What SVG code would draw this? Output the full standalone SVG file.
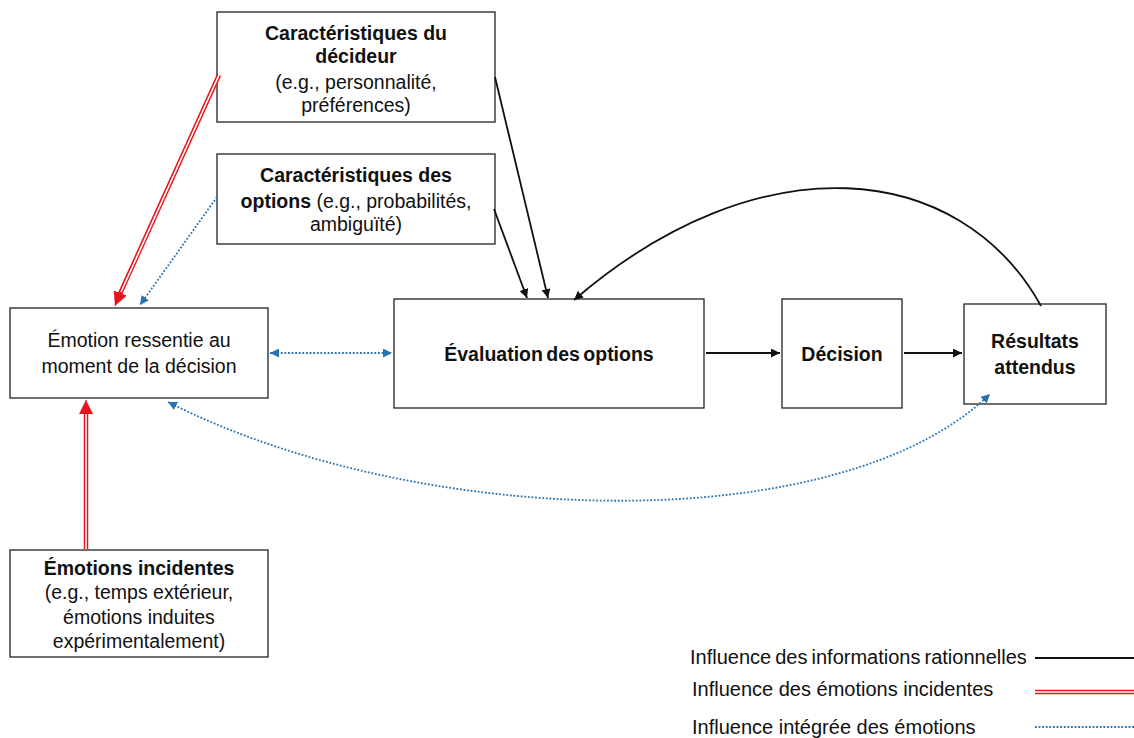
<svg xmlns="http://www.w3.org/2000/svg" width="1134" height="738" viewBox="0 0 1134 738">
<style>
.box{fill:#fff;stroke:#222;stroke-width:1.3}
text{font-family:"Liberation Sans",Arial,sans-serif;font-size:19.5px;fill:#111;text-anchor:middle}
.b{font-weight:bold}
.lg{text-anchor:start;font-size:20px}
.blk{fill:none;stroke:#111;stroke-width:1.8}
.redo{fill:none;stroke:#e8141b;stroke-width:4.5}
.redi{fill:none;stroke:#fff;stroke-width:1.6}
.blu{fill:none;stroke:#2a72b0;stroke-width:1.8;stroke-dasharray:1.8 1.8}
</style>
<defs>
<marker id="ab" viewBox="0 0 10 10" refX="10" refY="5" markerWidth="9" markerHeight="9" markerUnits="userSpaceOnUse" orient="auto-start-reverse"><path d="M0,0 L10,5 L0,10 z" fill="#111"/></marker>
<marker id="ar" viewBox="0 0 10 10" refX="10" refY="5" markerWidth="14" markerHeight="14" markerUnits="userSpaceOnUse" orient="auto"><path d="M0,0 L10,5 L0,10 z" fill="#e8141b"/></marker>
<marker id="au" viewBox="0 0 10 10" refX="10" refY="5" markerWidth="9" markerHeight="9" markerUnits="userSpaceOnUse" orient="auto-start-reverse"><path d="M0,0 L10,5 L0,10 z" fill="#2a72b0"/></marker>
</defs>

<g id="n-decideur">
<rect class="box" x="217" y="12" width="278" height="110"/>
<text class="b" x="356" y="40">Caractéristiques du</text>
<text class="b" x="356" y="63">décideur</text>
<text x="356" y="89">(e.g., personnalité,</text>
<text x="356" y="112">préférences)</text>
</g>

<g id="n-options">
<rect class="box" x="217" y="154" width="278" height="90"/>
<text class="b" x="356" y="182">Caractéristiques des</text>
<text x="356" y="208"><tspan class="b">options</tspan> (e.g., probabilités,</text>
<text x="356" y="231">ambiguïté)</text>
</g>

<g id="n-emotion">
<rect class="box" x="10" y="308" width="258" height="90"/>
<text x="139" y="347">Émotion ressentie au</text>
<text x="139" y="373">moment de la décision</text>
</g>

<g id="n-evaluation">
<rect class="box" x="394" y="299" width="310" height="109"/>
<text class="b" x="549" y="361" font-size="20.5px" word-spacing="-2">Évaluation des options</text>
</g>

<g id="n-decision">
<rect class="box" x="782" y="299" width="120" height="109"/>
<text class="b" x="842" y="361">Décision</text>
</g>

<g id="n-resultats">
<rect class="box" x="964" y="304" width="142" height="100"/>
<text class="b" x="1035" y="348">Résultats</text>
<text class="b" x="1035" y="374">attendus</text>
</g>

<g id="n-incidentes">
<rect class="box" x="10" y="550" width="258" height="107"/>
<text class="b" x="139" y="575">Émotions incidentes</text>
<text x="139" y="599">(e.g., temps extérieur,</text>
<text x="139" y="624">émotions induites</text>
<text x="139" y="648">expérimentalement)</text>
</g>

<g id="connectors">
<line class="redo" x1="219" y1="75" x2="119" y2="296"/>
<line class="redi" x1="219" y1="75" x2="121" y2="292"/>
<line x1="119" y1="296" x2="115" y2="306" stroke="#e8141b" stroke-width="1" marker-end="url(#ar)"/>
<line class="redo" x1="86" y1="549" x2="86" y2="410"/>
<line class="redi" x1="86" y1="549" x2="86" y2="412"/>
<line x1="86" y1="412" x2="86" y2="400" stroke="#e8141b" stroke-width="1" marker-end="url(#ar)"/>
<line class="blu" x1="217" y1="197" x2="140" y2="305" marker-end="url(#au)"/>
<line class="blu" x1="270" y1="353" x2="392" y2="353" marker-start="url(#au)" marker-end="url(#au)"/>
<path class="blu" d="M168,402 C 420,530 840,540 990,394" marker-start="url(#au)" marker-end="url(#au)"/>
<line class="blk" x1="495" y1="77" x2="548" y2="298" marker-end="url(#ab)"/>
<line class="blk" x1="494" y1="209" x2="527" y2="298" marker-end="url(#ab)"/>
<path class="blk" d="M1041,306 C 960,160 760,140 574,300" marker-end="url(#ab)"/>
<line class="blk" x1="706" y1="353" x2="780" y2="353" marker-end="url(#ab)"/>
<line class="blk" x1="904" y1="353" x2="962" y2="353" marker-end="url(#ab)"/>
</g>

<g id="legend">
<text class="lg" x="690" y="664" word-spacing="-1.5">Influence des informations rationnelles</text>
<text class="lg" x="692" y="696">Influence des émotions incidentes</text>
<text class="lg" x="692" y="734">Influence intégrée des émotions</text>
<line x1="1035" y1="658" x2="1134" y2="658" stroke="#111" stroke-width="1.8"/>
<line class="redo" x1="1035" y1="692" x2="1134" y2="692"/>
<line class="redi" x1="1035" y1="692" x2="1134" y2="692"/>
<line class="blu" x1="1035" y1="727" x2="1134" y2="727" stroke-width="1.2"/>
</g>
</svg>
